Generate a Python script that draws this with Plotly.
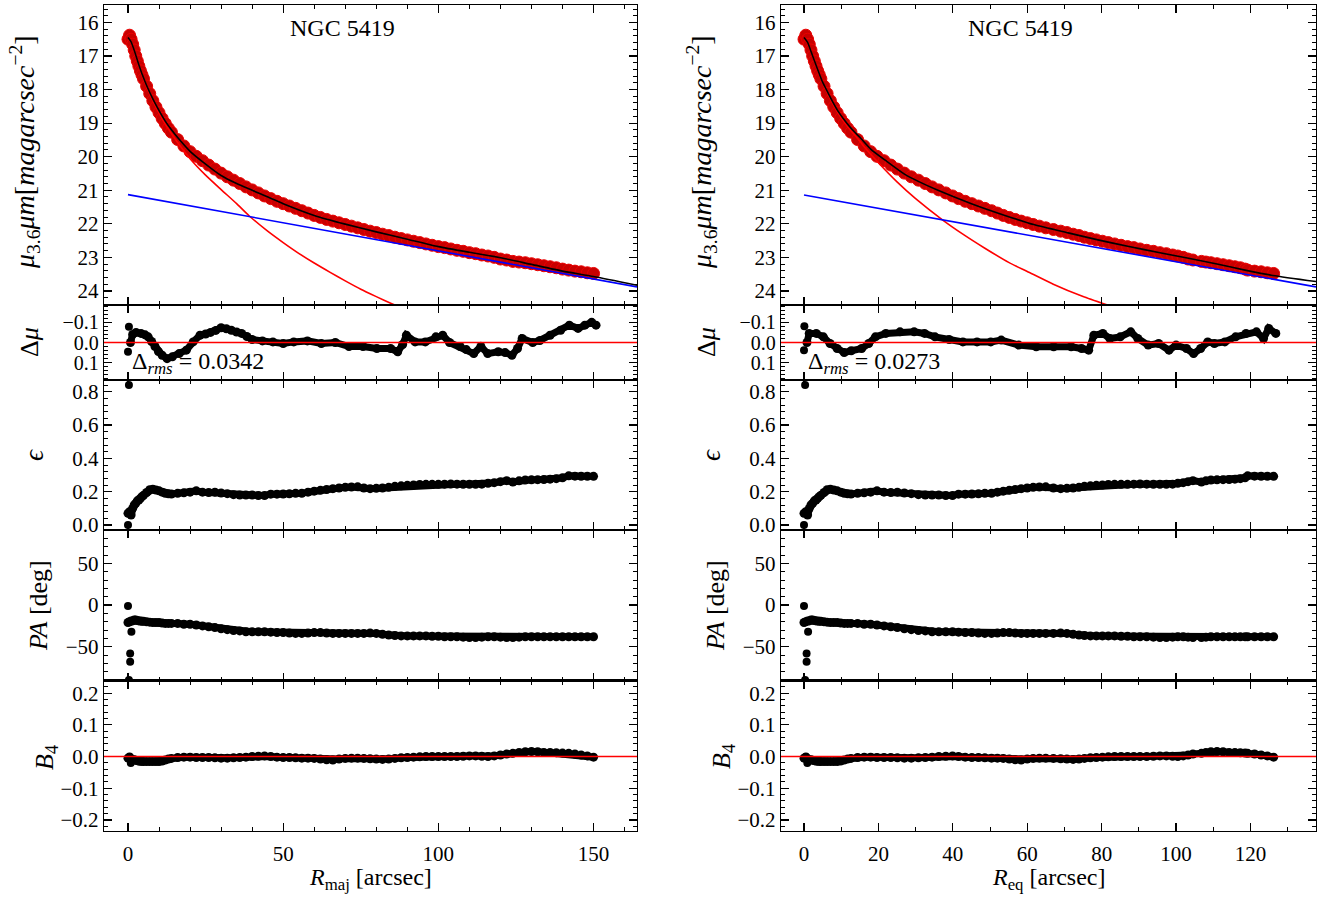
import numpy as np
import plotly.graph_objects as go

# ---------------- data ----------------
# common major-axis grid for the isophote table
r_maj = [0, 0.5, 1, 1.5, 2, 2.5, 3, 3.5, 4, 4.5, 5, 6, 7, 8, 9, 10, 11, 12, 13, 14,
         16, 18, 20, 22, 24, 26, 28, 30, 32, 34, 36, 38, 40, 42, 44, 46, 48, 50,
         52, 54, 56, 58, 60, 62, 64, 66, 68, 70, 72, 74, 76, 78, 80, 82, 84, 86,
         88, 90, 92, 94, 96, 98, 100, 102, 104, 106, 108, 110, 112, 114, 116, 118,
         120, 122, 124, 126, 128, 130, 132, 134, 136, 138, 140, 142, 144, 146, 148, 150]
mu_obs = [16.50, 16.38, 16.50, 16.65, 16.82, 17.00, 17.15, 17.30, 17.44, 17.56, 17.68,
          17.90, 18.12, 18.33, 18.52, 18.69, 18.86, 19.01, 19.15, 19.27,
          19.49, 19.68, 19.85, 19.99, 20.12, 20.25, 20.37, 20.49, 20.60, 20.70,
          20.80, 20.90, 20.99, 21.08, 21.17, 21.25, 21.33, 21.40, 21.47, 21.54,
          21.61, 21.68, 21.75, 21.81, 21.87, 21.92, 21.97, 22.02, 22.07, 22.12,
          22.17, 22.22, 22.26, 22.31, 22.35, 22.40, 22.44, 22.48, 22.52, 22.56,
          22.60, 22.64, 22.68, 22.71, 22.75, 22.79, 22.82, 22.86, 22.89, 22.93,
          22.96, 23.00, 23.05, 23.08, 23.12, 23.14, 23.16, 23.19, 23.22, 23.25,
          23.28, 23.31, 23.35, 23.38, 23.41, 23.43, 23.46, 23.48]
eps = [0.07, 0.08, 0.06, 0.10, 0.12, 0.13, 0.145, 0.15, 0.16, 0.17, 0.178, 0.195, 0.212,
       0.215, 0.21, 0.205, 0.197, 0.19, 0.187, 0.186,
       0.19, 0.193, 0.197, 0.205, 0.197, 0.195, 0.197, 0.192, 0.188, 0.182, 0.18,
       0.18, 0.18, 0.177, 0.177, 0.185, 0.185, 0.186, 0.187, 0.19, 0.19, 0.197,
       0.203, 0.208, 0.213, 0.218, 0.222, 0.226, 0.228, 0.229, 0.222, 0.218, 0.22,
       0.222, 0.226, 0.232, 0.235, 0.238, 0.24, 0.243, 0.244, 0.244, 0.244, 0.245,
       0.246, 0.245, 0.244, 0.244, 0.244, 0.245, 0.25, 0.254, 0.26, 0.266, 0.258,
       0.265, 0.27, 0.271, 0.272, 0.273, 0.275, 0.278, 0.283, 0.295, 0.293, 0.292,
       0.292, 0.292]
pa = [-21, -20, -19, -19, -18, -18, -18.5, -19, -19, -19.5, -19.5, -20, -20.5, -21, -21,
      -21, -21.5, -22, -22, -22,
      -22, -23, -23, -24, -25, -26, -27, -28.5, -29.5, -30.5, -31, -32, -32, -32,
      -32, -32.5, -33, -33, -33.5, -34, -34, -33.5, -33, -33, -33.5, -34, -34, -34,
      -34, -34, -34, -33.5, -34, -35, -36, -36.5, -37, -37, -37, -37, -37, -37.5,
      -37.5, -38, -38, -38, -38.5, -39, -39, -38.5, -38, -38, -38.5, -39, -39,
      -38.5, -38, -38, -38, -38, -38, -38, -38, -38, -38, -38, -38, -38]
b4 = [-0.005, -0.003, -0.008, -0.01, -0.01, -0.012, -0.013, -0.014, -0.015, -0.015,
      -0.016, -0.016, -0.016, -0.016, -0.016, -0.016, -0.014, -0.011, -0.008, -0.006,
      -0.003, -0.002, -0.002, -0.003, -0.003, -0.003, -0.004, -0.005, -0.005, -0.004,
      -0.003, -0.002, 0.0, 0.001, 0.002, 0.0, -0.002, -0.003, -0.003, -0.004,
      -0.005, -0.005, -0.006, -0.008, -0.01, -0.011, -0.008, -0.006, -0.005, -0.005,
      -0.006, -0.007, -0.008, -0.009, -0.008, -0.006, -0.004, -0.003, -0.002, -0.001,
      0.0, 0.0, 0.0, 0.0, 0.0, 0.0, 0.001, 0.002, 0.002, 0.001, 0.0, 0.002,
      0.005, 0.008, 0.01, 0.013, 0.015, 0.016, 0.015, 0.013, 0.013, 0.012,
      0.011, 0.01, 0.008, 0.005, 0.002, -0.002]

# isolated central points
eps_iso_r = [0.0, 0.3]
eps_iso = [0.0, 0.84]
pa_iso_r = [0.0, 1.1, 0.7, 0.7, 0.3]
pa_iso = [-1, -32, -58, -68, -90]
b4_iso_r = [0.9, 0.5]
b4_iso = [-0.02, 0.0]

# residuals, major-axis fit
res_maj_r = [0.8, 1.5, 2.6, 4.2, 5.5, 6.5, 7.6, 8.7, 9.8, 11.0, 12.6, 14.3, 16.5, 18.8,
             21.0, 23.2, 25.0, 26.6, 28.3, 30.0, 31.7, 33.3, 35.0, 36.6, 38.3, 40.0,
             43.3, 46.7, 50.0, 53.4, 57.8, 62.3, 66.8, 71.2, 75.7, 80.2, 84.6, 86.9,
             88.5, 89.7, 92.5, 95.8, 99.2, 101.4, 103.6, 107.0, 109.0, 111.4, 113.7,
             115.9, 119.3, 121.5, 123.7, 125.5, 127.0, 130.4, 132.7, 136.0, 139.4,
             142.2, 145.0, 147.2, 149.4, 150.8]
res_maj = [0.0, -0.04, -0.05, -0.045, -0.038, -0.028, -0.005, 0.02, 0.045, 0.063,
           0.08, 0.071, 0.055, 0.038, -0.003, -0.036, -0.042, -0.05, -0.06, -0.073,
           -0.068, -0.061, -0.052, -0.045, -0.03, -0.015, -0.008, -0.003, 0.005,
           -0.003, -0.008, 0.005, 0.0, 0.02, 0.02, 0.03, 0.03, 0.046, 0.01, -0.036,
           -0.003, -0.003, -0.028, -0.036, 0.0, 0.02, 0.035, 0.055, 0.02, 0.055,
           0.046, 0.05, 0.063, 0.03, -0.02, 0.0, -0.01, -0.036, -0.061, -0.086,
           -0.07, -0.086, -0.1, -0.086]
res_maj_iso_r = [0.3, 0.0]
res_maj_iso = [-0.078, 0.046]

# residuals, equivalent-axis fit
res_eq_r = [0.8, 1.4, 3.3, 5.2, 7.0, 8.9, 10.8, 12.7, 15.5, 17.4, 19.2, 22.0, 25.8,
            29.6, 32.4, 35.2, 39.0, 42.7, 46.5, 50.2, 53.0, 57.7, 62.4, 67.1, 71.8,
            74.6, 76.5, 77.9, 80.3, 82.2, 85.0, 87.8, 89.7, 92.5, 95.3, 98.1, 100.0,
            102.8, 104.7, 106.6, 108.5, 110.3, 113.1, 116.0, 118.8, 121.6, 123.5,
            124.9, 126.8]
res_eq = [0.0, -0.045, -0.045, -0.028, 0.005, 0.03, 0.05, 0.041, 0.03, 0.005, -0.028,
          -0.045, -0.053, -0.053, -0.045, -0.028, -0.015, -0.003, -0.003, -0.003,
          -0.012, 0.013, 0.021, 0.021, 0.021, 0.03, 0.038, -0.036, -0.045, -0.02,
          -0.028, -0.053, -0.02, 0.013, 0.005, 0.038, 0.013, 0.03, 0.055, 0.03,
          -0.003, 0.005, -0.003, -0.028, -0.045, -0.053, -0.02, -0.07, -0.045]
res_eq_iso_r = [0.1, 0.0]
res_eq_iso = [-0.081, 0.038]

# model components, major axis
mod_maj_r = [0, 1, 2, 3, 4, 5, 6, 8, 10, 12, 14, 16, 20, 25, 30, 35, 40, 50, 60, 70,
             80, 90, 100, 110, 120, 130, 140, 150, 164]
mod_maj = [16.45, 16.58, 16.83, 17.12, 17.40, 17.65, 17.88, 18.28, 18.63, 18.94, 19.20,
           19.43, 19.84, 20.22, 20.56, 20.80, 21.00, 21.40, 21.75, 22.01, 22.24, 22.46,
           22.68, 22.85, 23.01, 23.21, 23.41, 23.57, 23.83]
bul_maj_r = [0, 1, 2, 3, 4, 5, 6, 8, 10, 12, 14, 16, 20, 25, 30, 35, 39, 45, 50, 55,
             60, 65, 70, 75, 80, 85, 90]
bul_maj = [16.47, 16.59, 16.84, 17.14, 17.43, 17.68, 17.92, 18.33, 18.70, 19.03, 19.31,
           19.58, 20.06, 20.55, 20.98, 21.40, 21.76, 22.22, 22.56, 22.88, 23.17, 23.44,
           23.70, 23.95, 24.17, 24.38, 24.58]
disk_maj_r = [0, 164]
disk_maj = [21.13, 23.88]

# model components, equivalent axis
mod_eq_r = [0, 1, 2, 3, 4, 5, 6, 7, 9, 11, 13, 15, 18, 22, 27, 31, 36, 45, 54, 62, 71,
            79, 87, 96, 103, 111, 118.5, 126, 137.6]
mod_eq = [16.45, 16.60, 16.90, 17.20, 17.50, 17.78, 18.00, 18.22, 18.62, 18.93, 19.20,
          19.42, 19.78, 20.12, 20.52, 20.75, 21.00, 21.40, 21.75, 22.03, 22.27, 22.48,
          22.67, 22.87, 23.02, 23.20, 23.38, 23.54, 23.72]
bul_eq_r = [0, 1, 2, 3, 4, 5, 6, 7, 9, 11, 13, 14, 16, 20, 25, 30, 37.2, 43, 48.5, 55,
            60, 67, 75, 83, 90]
bul_eq = [16.46, 16.61, 16.91, 17.21, 17.52, 17.80, 18.03, 18.26, 18.67, 19.00, 19.28,
          19.40, 19.68, 20.18, 20.75, 21.25, 21.88, 22.33, 22.72, 23.15, 23.42, 23.80,
          24.17, 24.48, 24.75]
disk_eq_r = [0, 137.6]
disk_eq = [21.14, 23.88]

rms_maj = "0.0342"
rms_eq = "0.0273"
galaxy = "NGC 5419"

# equivalent radius of each isophote
r_eq = (np.array(r_maj) * np.sqrt(1.0 - np.array(eps))).tolist()

# ---------------- figure ----------------
W, H = 1323, 899
ML, MR, MT, MB = 104, 7, 5, 68
PW, PH = W - ML - MR, H - MT - MB


def px_x(px):
    return (px - ML) / PW


def px_y(py):
    return 1 - (py - MT) / PH


col_dom = [[px_x(104), px_x(637)], [px_x(781), px_x(1316)]]
row_px = [(5, 305), (305, 380), (380, 530), (530, 680.5), (680.5, 831)]
row_dom = [[px_y(b), px_y(t)] for (t, b) in row_px]

FONT = "Liberation Serif"
BLACK = "black"
RED_DOT = "rgb(200,0,0)"
TICKFS = 21

fig = go.Figure()

xranges = [[-7.73, 164.0], [-6.18, 137.6]]
xdt = [(50, 10), (20, 10)]
yranges = [[24.42, 15.48], [0.186, -0.186], [-0.03, 0.87], [-90.5, 90], [-0.235, 0.24]]
ydt = [(1, 0.2), (0.1, 0.02), (0.2, 0.04), (50, 10), (0.1, 0.02)]
yfmt = [None, ".1f", ".1f", None, ".1f"]
yfs = [TICKFS, 20, TICKFS, TICKFS, TICKFS]

layout = dict(
    width=W, height=H, autosize=False,
    margin=dict(l=ML, r=MR, t=MT, b=MB, pad=0),
    paper_bgcolor="white", plot_bgcolor="white",
    showlegend=False,
    font=dict(family=FONT, size=20, color=BLACK),
)


def axname(c, r):
    return c * 5 + r + 1


for c in range(2):
    for r in range(5):
        i = axname(c, r)
        xk = "xaxis" if i == 1 else f"xaxis{i}"
        yk = "yaxis" if i == 1 else f"yaxis{i}"
        layout[xk] = dict(
            domain=col_dom[c], anchor=f"y{'' if i == 1 else i}", range=xranges[c],
            showgrid=False, zeroline=False, showline=True, linecolor=BLACK, linewidth=1.2,
            mirror="allticks", ticks="inside", ticklen=8, tickwidth=1.2, tickcolor=BLACK,
            dtick=xdt[c][0], tick0=0,
            minor=dict(ticks="inside", ticklen=4, tickwidth=1, tickcolor=BLACK,
                       dtick=xdt[c][1], tick0=0, showgrid=False),
            showticklabels=(r == 4), tickfont=dict(size=TICKFS, family=FONT),
            ticklabelstandoff=4,
        )
        ydict = dict(
            domain=row_dom[r], anchor=f"x{'' if i == 1 else i}", range=yranges[r],
            showgrid=False, zeroline=False, showline=True, linecolor=BLACK, linewidth=1.2,
            mirror="allticks", ticks="inside", ticklen=8, tickwidth=1.2, tickcolor=BLACK,
            dtick=ydt[r][0], tick0=0,
            minor=dict(ticks="inside", ticklen=4, tickwidth=1, tickcolor=BLACK,
                       dtick=ydt[r][1], tick0=0, showgrid=False),
            tickfont=dict(size=yfs[r], family=FONT),
        )
        if yfmt[r]:
            ydict["tickformat"] = yfmt[r]
        layout[yk] = ydict

fig.update_layout(**layout)


def ax(c, r):
    i = axname(c, r)
    s = "" if i == 1 else str(i)
    return dict(xaxis="x" + s, yaxis="y" + s)


def band(x, y, c, r, color="black", size=9, lw=7):
    fig.add_trace(go.Scatter(x=x, y=y, mode="lines+markers",
                             line=dict(color=color, width=lw),
                             marker=dict(color=color, size=size),
                             hoverinfo="skip", **ax(c, r)))


def dots(x, y, c, r, color="black", size=8):
    fig.add_trace(go.Scatter(x=x, y=y, mode="markers",
                             marker=dict(color=color, size=size),
                             hoverinfo="skip", cliponaxis=True, **ax(c, r)))


def curve(x, y, c, r, color, width=1.6):
    fig.add_trace(go.Scatter(x=x, y=y, mode="lines",
                             line=dict(color=color, width=width, shape="spline", smoothing=0.6),
                             hoverinfo="skip", **ax(c, r)))


xs = [r_maj, r_eq]
mods = [(mod_maj_r, mod_maj, bul_maj_r, bul_maj, disk_maj_r, disk_maj),
        (mod_eq_r, mod_eq, bul_eq_r, bul_eq, disk_eq_r, disk_eq)]
ress = [(res_maj_r, res_maj, res_maj_iso_r, res_maj_iso),
        (res_eq_r, res_eq, res_eq_iso_r, res_eq_iso)]
rmss = [rms_maj, rms_eq]

for c in range(2):
    x = xs[c]
    mr, mv, br, bv, dr, dv = mods[c]
    # profile
    fig.add_trace(go.Scatter(x=x, y=mu_obs, mode="markers",
                             marker=dict(color=RED_DOT, size=12,
                                         line=dict(color="rgb(235,0,0)", width=1)),
                             hoverinfo="skip", **ax(c, 0)))
    curve(br, bv, c, 0, "rgb(255,0,0)")
    curve(dr, dv, c, 0, "rgb(0,0,255)")
    curve(mr, mv, c, 0, "black")
    # residuals
    rr, rv, ir, iv = ress[c]
    band(rr, rv, c, 1)
    dots(ir, iv, c, 1)
    # ellipticity
    band(x, eps, c, 2)
    dots(eps_iso_r, eps_iso, c, 2)
    # PA
    band(x, pa, c, 3)
    dots(pa_iso_r, pa_iso, c, 3)
    # B4
    band(x, b4, c, 4)
    dots(b4_iso_r, b4_iso, c, 4)

    i1 = axname(c, 1)
    i4 = axname(c, 4)
    for ii in (i1, i4):
        fig.add_shape(type="line", xref=f"x{ii} domain", yref=f"y{ii}",
                      x0=0, x1=1, y0=0, y1=0, line=dict(color="rgb(255,0,0)", width=1.6),
                      layer="above")

    # annotations
    s1 = "" if c == 0 else str(axname(c, 0))
    fig.add_annotation(xref=f"x{s1} domain", yref="paper", x=0.447, y=px_y(28),
                       text=galaxy, showarrow=False, font=dict(size=24, family=FONT),
                       xanchor="center", yanchor="middle")
    fig.add_annotation(xref=f"x{i1}", yref=f"y{i1}", x=0.6, y=0.1,
                       text=f"Δ<sub><i>rms</i></sub> = {rmss[c]}", showarrow=False,
                       font=dict(size=24, family=FONT), xanchor="left", yanchor="middle")

    # y titles
    spine = 104 if c == 0 else 781
    ytitles = [
        ("<i>μ</i><sub>3.6</sub><i>μm</i>[<i>magarcsec</i><sup>−2</sup>]", -79, 152, 28),
        ("Δ<i>μ</i>", -74, 342, 26),
        ("<i>ϵ</i>", -70, 455, 27),
        ("<i>PA</i> [deg]", -66, 606, 26),
        ("<i>B</i><sub>4</sub>", -58, 757, 26),
    ]
    for txt, off, yc, fs in ytitles:
        fig.add_annotation(xref="paper", yref="paper", x=px_x(spine + off), y=px_y(yc),
                           text=txt, textangle=-90, showarrow=False,
                           font=dict(size=fs, family=FONT),
                           xanchor="center", yanchor="middle")

    # x title
    xc = (104 + 637) / 2 if c == 0 else (781 + 1316) / 2
    lab = "<i>R</i><sub>maj</sub> [arcsec]" if c == 0 else "<i>R</i><sub>eq</sub> [arcsec]"
    fig.add_annotation(xref="paper", yref="paper", x=px_x(xc), y=px_y(879),
                       text=lab, showarrow=False, font=dict(size=24, family=FONT),
                       xanchor="center", yanchor="middle")

fig.write_html("out.html",
               config={"displayModeBar": False, "staticPlot": True},
               post_script="document.body.style.margin='0px';document.body.style.overflow='hidden';")
